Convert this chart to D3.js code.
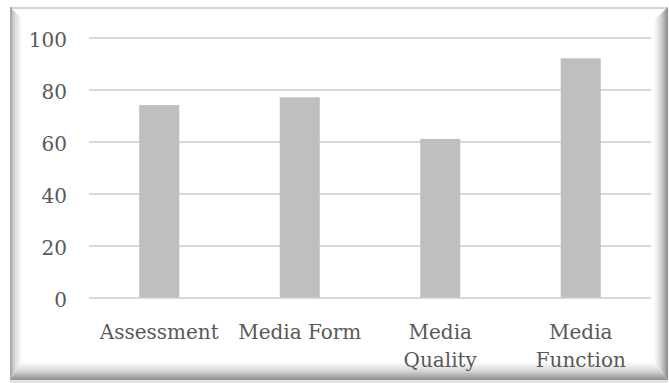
<!DOCTYPE html>
<html>
<head>
<meta charset="utf-8">
<script src="https://cdn.jsdelivr.net/npm/d3@7"></script>
<style>
  html, body { margin: 0; padding: 0; background: #fff; }
  svg { display: block; }
</style>
</head>
<body>
<svg id="chart" width="669" height="383"></svg>
<script>
const categories = ["Assessment", "Media Form", "Media Quality", "Media Function"];
const values = [74, 77, 61, 92];
const yTicks = [0, 20, 40, 60, 80, 100];

const W = 669, H = 383;
const plot = { left: 89, right: 651, top: 37.5, bottom: 297.5 };
const svg = d3.select("#chart");

// ---- frame with bevelled shadow ----
const defs = svg.append("defs");
function grad(id, x1, y1, x2, y2, stops) {
  const g = defs.append("linearGradient").attr("id", id)
    .attr("gradientUnits", "userSpaceOnUse")
    .attr("x1", x1).attr("y1", y1).attr("x2", x2).attr("y2", y2);
  stops.forEach(s => g.append("stop").attr("offset", s[0]).attr("stop-color", s[1]));
}
grad("gl", 11, 0, 22, 0, [[0, "#b4b4b4"], [0.4, "#dcdcdc"], [1, "#ffffff"]]);
grad("gb", 0, 362, 0, 380, [[0, "#ffffff"], [0.5, "#d6d6d6"], [1, "#8e8e8e"]]);
grad("gr", 654, 0, 668, 0, [[0, "#ffffff"], [0.5, "#d2d2d2"], [1, "#8a8a8a"]]);

const fx0 = 10, fy0 = 7, fx1 = 668, fy1 = 380;
svg.append("rect").attr("x", fx0).attr("y", fy0).attr("width", fx1 - fx0).attr("height", fy1 - fy0)
  .attr("fill", "#fff");
svg.append("line").attr("x1", fx0).attr("x2", fx1).attr("y1", fy0 + 1).attr("y2", fy0 + 1)
  .attr("stroke", "#d4d4d4").attr("stroke-width", 2);
svg.append("polygon").attr("points", `${fx0},${fy0} 22,19 22,362 ${fx0},${fy1}`).attr("fill", "url(#gl)");
svg.append("line").attr("x1", 11).attr("x2", 11).attr("y1", fy0).attr("y2", fy1)
  .attr("stroke", "#a8a8a8").attr("stroke-width", 1.5);
svg.append("polygon").attr("points", `${fx0},${fy1} 22,362 654,362 ${fx1},${fy1}`).attr("fill", "url(#gb)");
svg.append("polygon").attr("points", `654,20 ${fx1},${fy0} ${fx1},${fy1} 654,362`).attr("fill", "url(#gr)");
svg.append("line").attr("x1", fx0).attr("x2", fx1).attr("y1", 381.5).attr("y2", 381.5)
  .attr("stroke", "#d8d8d8").attr("stroke-width", 2);

// ---- scales ----
const x = d3.scaleBand().domain(categories).range([plot.left, plot.right]).paddingInner(0.715).paddingOuter(0.3575);
const y = d3.scaleLinear().domain([0, 100]).range([plot.bottom, plot.top]);

const fontFam = "'DejaVu Serif', serif";
const txtColor = "#595959";

// gridlines
const yAxis = d3.axisLeft(y).tickValues(yTicks).tickSize(-(plot.right - plot.left)).tickPadding(22);
const gy = svg.append("g").attr("transform", `translate(${plot.left},0)`).call(yAxis);
gy.select(".domain").remove();
gy.selectAll(".tick line").attr("stroke", "#d9d9d9").attr("stroke-width", 2);
gy.selectAll(".tick text").attr("fill", txtColor).attr("font-family", fontFam)
  .attr("font-size", 20).attr("dy", "0.45em");

// bars
svg.append("g").selectAll("rect").data(values).join("rect")
  .attr("x", (d, i) => x(categories[i]))
  .attr("width", x.bandwidth())
  .attr("y", d => y(d))
  .attr("height", d => y(0) - y(d))
  .attr("fill", "#bfbfbf");

// x labels
const xAxis = d3.axisBottom(x).tickSize(0).tickPadding(0);
const gx = svg.append("g").attr("transform", `translate(0,${plot.bottom})`).call(xAxis);
gx.select(".domain").remove();
gx.selectAll(".tick text").each(function(d) {
  const t = d3.select(this);
  t.text(null).attr("fill", txtColor).attr("font-family", fontFam).attr("font-size", 20).attr("y", 0).attr("dy", null);
  const lines = d.length > 11 ? d.split(" ") : [d];
  lines.forEach((ln, k) => {
    t.append("tspan").attr("x", 0).attr("y", 41.5 + k * 27.5).text(ln);
  });
});
</script>
</body>
</html>
